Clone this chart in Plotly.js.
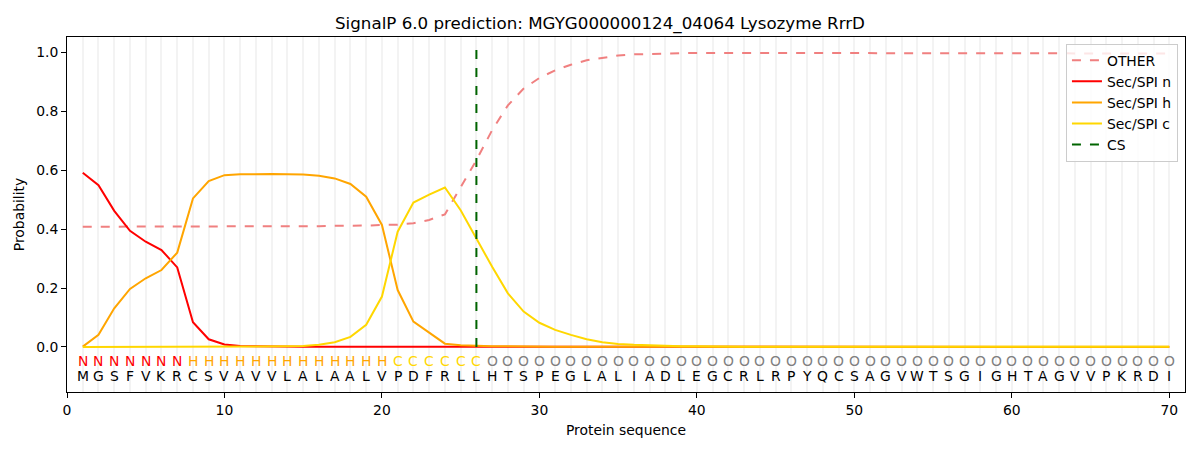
<!DOCTYPE html>
<html>
<head>
<meta charset="utf-8">
<script src="https://cdn.plot.ly/plotly-3.0.1.min.js"></script>
<style>
  body { margin: 0; background: #fff; }
  #chart { width: 1200px; height: 450px; }
</style>
</head>
<body>
<div id="chart"></div>
<script>
// sequence and per-residue labels
var sequence = "MGSFVKRCSVAVVLALAALVPDFRLLHTSPEGLALIADLEGCRLRPYQCSAGVWTSGIGHTAGVVPKRDI";
var regions  = "NNNNNNNHHHHHHHHHHHHHCCCCCCOOOOOOOOOOOOOOOOOOOOOOOOOOOOOOOOOOOOOOOOOOOO";
var csPos = 26;

var probOther = [
    0.408, 0.408, 0.408, 0.408, 0.408, 0.408, 0.408, 0.408, 0.408, 0.409,
    0.409, 0.409, 0.409, 0.409, 0.410, 0.410, 0.411, 0.411, 0.412, 0.414,
    0.415, 0.420, 0.431, 0.450, 0.543, 0.634, 0.736, 0.820, 0.877, 0.913,
    0.939, 0.958, 0.973, 0.982, 0.989, 0.993, 0.995, 0.996, 0.997, 0.998,
    0.998, 0.998, 0.998, 0.998, 0.998, 0.998, 0.998, 0.998, 0.998, 0.998,
    0.998, 0.998, 0.998, 0.998, 0.998, 0.998, 0.998, 0.998, 0.997, 0.997,
    0.997, 0.997, 0.997, 0.997, 0.997, 0.997, 0.996, 0.996, 0.996, 0.996
];
var probN = [
    0.591, 0.549, 0.462, 0.394, 0.357, 0.329, 0.270, 0.084, 0.026, 0.008,
    0.003, 0.002, 0.001, 0.001, 0.001, 0.001, 0.001, 0.001, 0.001, 0.001,
    0.000, 0.000, 0.000, 0.000, 0.000, 0.000, 0.000, 0.000, 0.000, 0.000,
    0.000, 0.000, 0.000, 0.000, 0.000, 0.000, 0.000, 0.000, 0.000, 0.000,
    0.000, 0.000, 0.000, 0.000, 0.000, 0.000, 0.000, 0.000, 0.000, 0.000,
    0.000, 0.000, 0.000, 0.000, 0.000, 0.000, 0.000, 0.000, 0.000, 0.000,
    0.000, 0.000, 0.000, 0.000, 0.000, 0.000, 0.000, 0.000, 0.000, 0.000
];
var probH = [
    0.001, 0.041, 0.131, 0.197, 0.233, 0.261, 0.320, 0.504, 0.563, 0.583,
    0.586, 0.587, 0.587, 0.586, 0.585, 0.581, 0.572, 0.553, 0.510, 0.414,
    0.193, 0.086, 0.048, 0.011, 0.006, 0.003, 0.002, 0.002, 0.001, 0.001,
    0.001, 0.001, 0.001, 0.001, 0.001, 0.001, 0.001, 0.001, 0.001, 0.001,
    0.001, 0.001, 0.001, 0.001, 0.001, 0.001, 0.001, 0.001, 0.001, 0.001,
    0.001, 0.001, 0.001, 0.001, 0.001, 0.001, 0.001, 0.001, 0.001, 0.001,
    0.001, 0.001, 0.001, 0.001, 0.001, 0.001, 0.001, 0.001, 0.001, 0.001
];
var probC = [
    0.000, 0.000, 0.000, 0.000, 0.000, 0.000, 0.000, 0.000, 0.000, 0.000,
    0.001, 0.001, 0.001, 0.002, 0.003, 0.007, 0.016, 0.034, 0.075, 0.171,
    0.391, 0.490, 0.517, 0.541, 0.464, 0.368, 0.272, 0.182, 0.120, 0.082,
    0.058, 0.041, 0.026, 0.016, 0.010, 0.007, 0.005, 0.003, 0.002, 0.002,
    0.001, 0.001, 0.001, 0.001, 0.001, 0.001, 0.001, 0.001, 0.001, 0.001,
    0.001, 0.001, 0.001, 0.001, 0.001, 0.001, 0.001, 0.001, 0.001, 0.001,
    0.001, 0.001, 0.001, 0.001, 0.001, 0.001, 0.001, 0.001, 0.001, 0.001
];

var regionColors = { N: "red", H: "orange", C: "gold", O: "gray" };
var font = "DejaVu Sans, sans-serif";

var pos = [];
for (let i = 0; i < sequence.length; i++) {
    pos.push(i + 1);
}

function lineTrace(name, y, color, dash) {
    return {
        type: "scatter",
        mode: "lines",
        name: name,
        x: pos,
        y: y,
        line: { color: color, width: 2, dash: dash || "solid" },
        hoverinfo: "skip"
    };
}

var data = [
    lineTrace("OTHER", probOther, "lightcoral", "dash"),
    lineTrace("Sec/SPI n", probN, "red"),
    lineTrace("Sec/SPI h", probH, "orange"),
    lineTrace("Sec/SPI c", probC, "gold"),
    {
        type: "scatter",
        mode: "lines",
        name: "CS",
        x: [csPos, csPos],
        y: [0, 1.037],
        line: { color: "darkgreen", width: 2, dash: "dash" },
        hoverinfo: "skip"
    }
];

var annotations = [];
for (let i = 0; i < sequence.length; i++) {
    annotations.push({
        x: pos[i], y: -0.048, xref: "x", yref: "y",
        text: regions[i], showarrow: false,
        xanchor: "center", yanchor: "middle",
        font: { family: font, size: 13.9, color: regionColors[regions[i]] }
    });
    annotations.push({
        x: pos[i], y: -0.1, xref: "x", yref: "y",
        text: sequence[i], showarrow: false,
        xanchor: "center", yanchor: "middle",
        font: { family: font, size: 13.9, color: "black" }
    });
}

var gridColor = "#f3f3f3";

var layout = {
    width: 1200,
    height: 450,
    margin: { l: 67, r: 15, t: 37, b: 58 },
    paper_bgcolor: "white",
    plot_bgcolor: "white",
    font: { family: font, size: 13.9, color: "black" },
    title: {
        text: "SignalP 6.0 prediction: MGYG000000124_04064 Lysozyme RrrD",
        font: { family: font, size: 16.7, color: "black" },
        x: 0.5, xanchor: "center",
        y: 0.949, yanchor: "middle"
    },
    xaxis: {
        range: [0, 71],
        tickmode: "linear", tick0: 0, dtick: 10,
        ticks: "outside", ticklen: 5, tickcolor: "black",
        showline: true, linecolor: "black", linewidth: 1, mirror: true,
        showgrid: true, gridcolor: gridColor, gridwidth: 2,
        zeroline: false,
        minor: { tick0: 0, dtick: 1, showgrid: true, gridcolor: gridColor, gridwidth: 2, ticks: "" },
        title: { text: "Protein sequence", font: { family: font, size: 13.9 }, standoff: 8 }
    },
    yaxis: {
        range: [-0.153, 1.052],
        tickmode: "linear", tick0: 0, dtick: 0.2, tickformat: ".1f",
        ticks: "outside", ticklen: 5, tickcolor: "black",
        showline: true, linecolor: "black", linewidth: 1, mirror: true,
        showgrid: false, zeroline: false,
        title: { text: "Probability", font: { family: font, size: 13.9 }, standoff: 8 }
    },
    legend: {
        x: 0.9937, xanchor: "right",
        y: 0.981, yanchor: "top",
        bgcolor: "rgba(255,255,255,0.8)",
        bordercolor: "#cccccc", borderwidth: 1,
        font: { family: font, size: 13.9 },
        tracegroupgap: 0
    },
    showlegend: true,
    annotations: annotations
};

Plotly.newPlot("chart", data, layout, { displayModeBar: false, staticPlot: true });
</script>
</body>
</html>
